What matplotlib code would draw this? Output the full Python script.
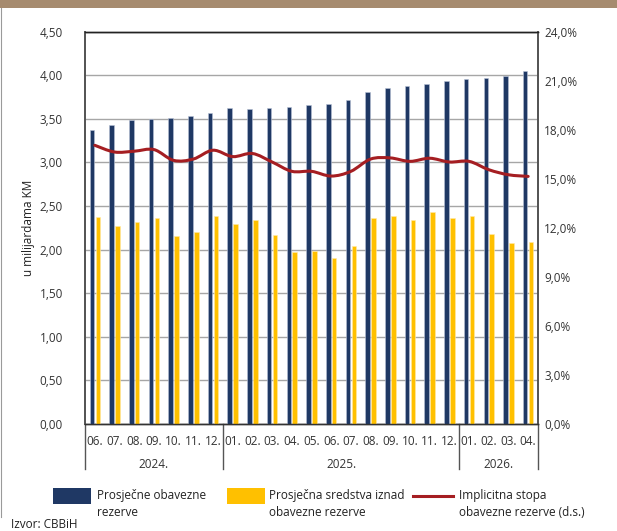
import numpy as np
import matplotlib
matplotlib.use("Agg")
import matplotlib.pyplot as plt
from matplotlib.path import Path
from matplotlib.patches import PathPatch, Rectangle
from matplotlib.lines import Line2D
import matplotlib.transforms as mtransforms

plt.rcParams['font.family'] = ['Open Sans', 'DejaVu Sans']

months = ["06.", "07.", "08.", "09.", "10.", "11.", "12.",
          "01.", "02.", "03.", "04.", "05.", "06.", "07.", "08.", "09.", "10.", "11.", "12.",
          "01.", "02.", "03.", "04."]
years = ["2024.", "2025.", "2026."]
year_counts = [7, 12, 4]

required_reserves = [3.37, 3.43, 3.48, 3.50, 3.51, 3.53, 3.57,
                     3.62, 3.61, 3.62, 3.63, 3.66, 3.67, 3.71, 3.81, 3.85, 3.87, 3.90, 3.93,
                     3.96, 3.97, 3.99, 4.05]
excess_reserves = [2.37, 2.27, 2.32, 2.36, 2.15, 2.20, 2.39,
                   2.29, 2.34, 2.17, 1.97, 1.98, 1.90, 2.04, 2.36, 2.39, 2.34, 2.43, 2.36,
                   2.38, 2.18, 2.08, 2.09]
implicit_rate = [17.04, 16.63, 16.68, 16.78, 16.12, 16.20, 16.74,
                 16.35, 16.54, 16.02, 15.45, 15.45, 15.16, 15.45, 16.20, 16.27, 16.06, 16.25, 16.02,
                 16.06, 15.55, 15.24, 15.14]

left_ticks = [0, 0.5, 1.0, 1.5, 2.0, 2.5, 3.0, 3.5, 4.0, 4.5]
right_ticks = [0, 3, 6, 9, 12, 15, 18, 21, 24]

legend_labels = [["Prosječne obavezne", "rezerve"],
                 ["Prosječna sredstva iznad", "obavezne rezerve"],
                 ["Implicitna stopa", "obavezne rezerve (d.s.)"]]

navy = "#1F3864"
gold = "#FFC000"
red = "#A51E22"

W, H = 617, 531
fig = plt.figure(figsize=(W / 100, H / 100), dpi=100)

# top band and left border
fig.patches.append(Rectangle((0, 1 - 8 / H), 1, 8 / H, transform=fig.transFigure,
                             facecolor="#A68B6F", edgecolor="none"))
fig.lines.append(Line2D([1 / W, 1 / W], [1 - 8 / H, 1 - 517 / H], transform=fig.transFigure,
                        color="#9A9A9A", lw=0.8))

left, right, top, bottom = 85, 538, 31.5, 424
ax = fig.add_axes([left / W, 1 - bottom / H, (right - left) / W, (bottom - top) / H])
ax2 = ax.twinx()

x = np.arange(len(months))
off = 0.15
bw = 0.23
ax.bar(x - off, required_reserves, width=bw, color=navy, edgecolor="#B8C2D6", linewidth=0.4, zorder=3)
ax.bar(x + off, excess_reserves, width=bw, color=gold, edgecolor="#FFE9A8", linewidth=0.4, zorder=3)

ax.set_xlim(-0.5, len(months) - 0.5)
ax.set_ylim(0, 4.5)
ax.set_yticks(left_ticks)
ax.set_yticklabels([f"{v:.2f}".replace(".", ",") for v in left_ticks], fontsize=8.5, color="#333333")
ax.yaxis.grid(True, color="#A6A6A6", lw=1.0, zorder=0)
ax.set_axisbelow(True)
ax.tick_params(axis="y", length=0, pad=16)
ax.set_ylabel("u milijardama KM", fontsize=8.5, color="#222222", labelpad=3)

ax.set_xticks(x)
ax.set_xticklabels(months, fontsize=8.5, color="#333333")
ax.tick_params(axis="x", length=0, pad=8)

ax2.set_ylim(0, 24)
ax2.set_yticks(right_ticks)
ax2.set_yticklabels([f"{v:.1f}%".replace(".", ",") for v in right_ticks], fontsize=8.5, color="#333333")
ax2.tick_params(axis="y", length=0, pad=4.5)

for a in (ax, ax2):
    a.spines["top"].set_color("#222222")
    a.spines["top"].set_linewidth(1.0)
    a.spines["left"].set_color("#555555")
    a.spines["left"].set_linewidth(1.3)
    a.spines["right"].set_color("#555555")
    a.spines["right"].set_linewidth(1.3)
    a.spines["bottom"].set_color("#333333")
    a.spines["bottom"].set_linewidth(1.0)

# smoothed line (Catmull-Rom through data points)
pts = np.column_stack([x, implicit_rate]).astype(float)
ext = np.vstack([pts[0], pts, pts[-1]])
verts = [tuple(pts[0])]
codes = [Path.MOVETO]
for i in range(1, len(ext) - 2):
    p0, p1, p2, p3 = ext[i - 1], ext[i], ext[i + 1], ext[i + 2]
    c1 = p1 + (p2 - p0) / 6
    c2 = p2 - (p3 - p1) / 6
    verts += [tuple(c1), tuple(c2), tuple(p2)]
    codes += [Path.CURVE4] * 3
ax2.add_patch(PathPatch(Path(verts, codes), fill=False, edgecolor=red, lw=2.2,
                        transform=ax2.transData, zorder=5, capstyle="round"))
ax2.set_zorder(ax.get_zorder() + 1)
ax2.patch.set_visible(False)

# year labels and separators
trans = mtransforms.blended_transform_factory(ax.transData, ax.transAxes)
sep_bottom = -(469 - bottom) / (bottom - top)
start = -0.5
seps = [start]
for yr, n in zip(years, year_counts):
    end = start + n
    ax.text((start + end) / 2, -(465 - bottom) / (bottom - top), yr, transform=trans,
            ha="center", va="center", fontsize=8.5, color="#333333")
    seps.append(end)
    start = end
for s in seps:
    ax.add_line(Line2D([s, s], [0, sep_bottom], transform=trans, color="#555555", lw=1.0, clip_on=False))

# legend
def fx(px):
    return px / W

def fy(py):
    return 1 - py / H

fig.patches.append(Rectangle((fx(53), fy(504)), fx(38), 16 / H, transform=fig.transFigure,
                             facecolor=navy, edgecolor="none"))
fig.patches.append(Rectangle((fx(227), fy(504)), fx(38), 16 / H, transform=fig.transFigure,
                             facecolor=gold, edgecolor="none"))
fig.lines.append(Line2D([fx(413), fx(453)], [fy(495.5), fy(495.5)], transform=fig.transFigure,
                        color=red, lw=2.2))
for xp, lines in zip([97, 269, 459], legend_labels):
    for k, ln in enumerate(lines):
        fig.text(fx(xp), fy(496 + 16.7 * k), ln, ha="left", va="center", fontsize=8.5,
                 color="#222222")

fig.text(fx(11), fy(525), "Izvor: CBBiH", ha="left", va="center", fontsize=8.5, color="#222222")

fig.savefig("out.png", dpi=100)
